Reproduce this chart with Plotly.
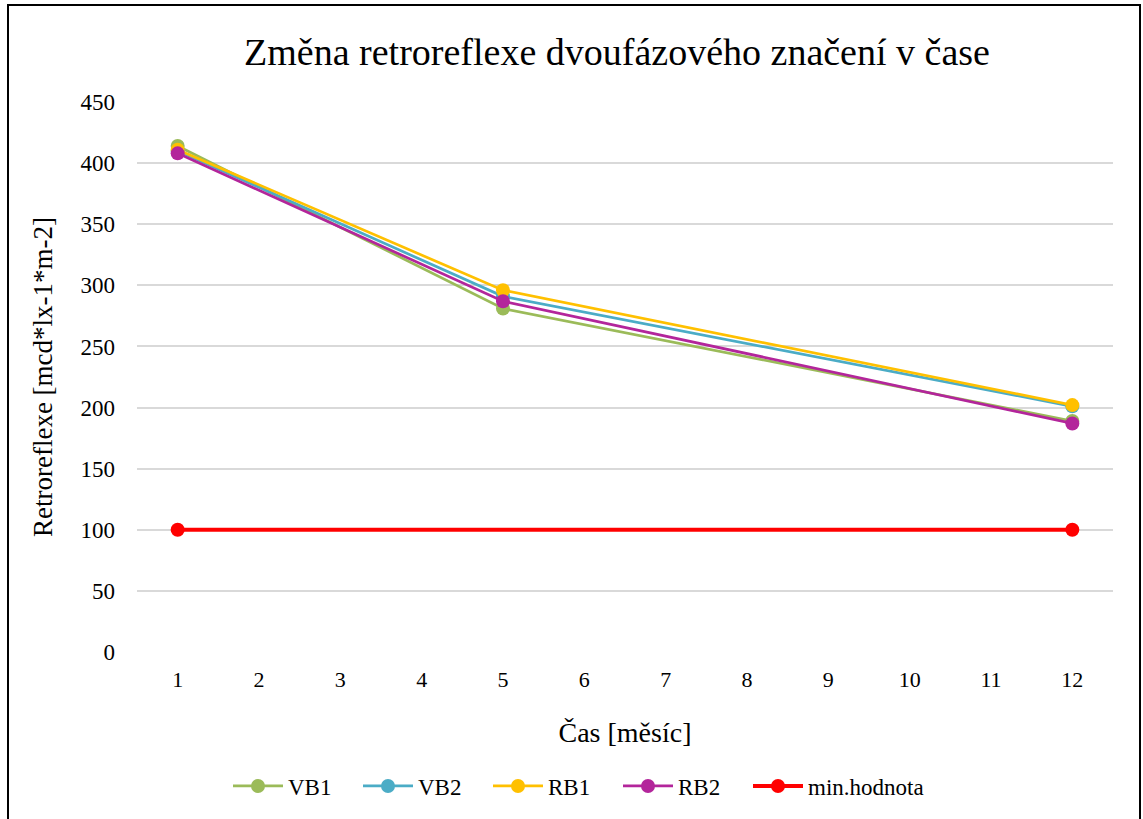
import plotly.graph_objects as go

months = [1, 5, 12]
vb1 = [414, 281, 189]
vb2 = [410, 291, 201]
rb1 = [411, 296, 202]
rb2 = [408, 287, 187]
min_x = [1, 12]
min_val = [100, 100]
x_ticks = list(range(1, 13))
y_ticks = list(range(0, 451, 50))

series = [
    ("VB1", months, vb1, "#9BBB59", 2.7, "legend"),
    ("VB2", months, vb2, "#4BACC6", 2.7, "legend"),
    ("RB1", months, rb1, "#FFC000", 2.7, "legend"),
    ("RB2", months, rb2, "#B3259B", 2.7, "legend"),
    ("min.hodnota", min_x, min_val, "#FF0000", 4, "legend2"),
]

fig = go.Figure()
for name, xs, ys, col, w, lg in series:
    fig.add_trace(go.Scatter(
        x=xs, y=ys, name=name, mode="lines+markers",
        line=dict(color=col, width=w),
        marker=dict(color=col, size=14),
        legend=lg,
    ))

font = "Liberation Serif"
W, H = 1143, 819
L, R, T, B = 137, 30, 102, 167
pw, ph = W - L - R, H - T - B

def px(x):
    return (x - L) / pw

def py(y):
    return (H - B - y) / ph

legend_common = dict(orientation="h", yanchor="middle", y=py(786), xanchor="left",
                      font=dict(family=font, size=23), itemwidth=50, tracegroupgap=0,
                      bgcolor="rgba(0,0,0,0)")

fig.update_layout(
    width=W, height=H,
    margin=dict(l=L, r=R, t=T, b=B),
    paper_bgcolor="white", plot_bgcolor="white",
    font=dict(family=font, size=21, color="#000000"),
    title=dict(text="Změna retroreflexe dvoufázového značení v čase",
               x=px(617), xref="paper", xanchor="center",
               y=1 - 52 / H, yanchor="middle",
               font=dict(family=font, size=38, color="#000000")),
    xaxis=dict(range=[0.5, 12.5], tickvals=x_ticks, ticktext=[str(v) for v in x_ticks],
               showgrid=False, zeroline=False, showline=False, ticks="",
               ticklabelstandoff=12,
               tickfont=dict(family=font, size=22), fixedrange=True,
               title=dict(text="Čas [měsíc]", font=dict(family=font, size=28), standoff=31)),
    yaxis=dict(range=[0, 450], tickvals=y_ticks, showgrid=True, gridcolor="#D9D9D9",
               gridwidth=1.5, zeroline=False, showline=False, ticks="",
               ticklabelstandoff=21,
               tickfont=dict(family=font, size=23),
               title=dict(text="Retroreflexe [mcd*lx-1*m-2]", font=dict(family=font, size=27), standoff=20)),
    legend=dict(legend_common, x=px(228), entrywidth=65, entrywidthmode="pixels"),
    legend2=dict(legend_common, x=px(748)),
    showlegend=True,
)

fig.add_shape(type="rect", xref="paper", yref="paper",
              x0=px(8), x1=px(1140), y0=py(830), y1=py(5),
              line=dict(color="#000000", width=2), fillcolor="rgba(0,0,0,0)", layer="below")

fig.write_html("out.html", config={"displayModeBar": False},
               post_script="document.body.style.margin='0';document.body.style.overflow='hidden';")
